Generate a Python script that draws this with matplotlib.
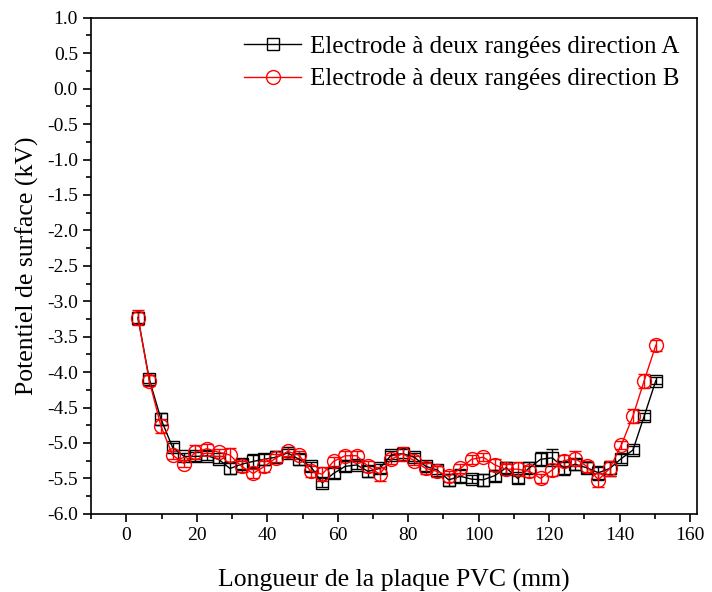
import matplotlib
matplotlib.use("Agg")
import matplotlib.pyplot as plt
from matplotlib.ticker import MultipleLocator

x = [3.3, 6.5, 9.8, 13.1, 16.4, 19.6, 22.9, 26.2, 29.4, 32.7, 36.0, 39.2, 42.5, 45.8,
     49.0, 52.3, 55.6, 58.8, 62.1, 65.4, 68.6, 71.9, 75.2, 78.4, 81.7, 85.0, 88.2, 91.5,
     94.8, 98.0, 101.3, 104.6, 107.8, 111.1, 114.4, 117.6, 120.9, 124.2, 127.4, 130.7,
     134.0, 137.2, 140.5, 143.8, 147.0, 150.3]

pot_A = [-3.23, -4.10, -4.66, -5.06, -5.19, -5.19, -5.18, -5.23, -5.36, -5.30, -5.26, -5.23,
         -5.20, -5.14, -5.23, -5.33, -5.56, -5.43, -5.33, -5.31, -5.40, -5.36, -5.17, -5.15,
         -5.20, -5.33, -5.38, -5.52, -5.47, -5.51, -5.52, -5.46, -5.35, -5.50, -5.35, -5.23,
         -5.21, -5.35, -5.30, -5.35, -5.42, -5.36, -5.22, -5.10, -4.62, -4.12]

err_A = [0.08, 0.06, 0.08, 0.06, 0.05, 0.06, 0.06, 0.05, 0.08, 0.07, 0.10, 0.08,
         0.08, 0.06, 0.08, 0.06, 0.06, 0.07, 0.07, 0.06, 0.08, 0.07, 0.06, 0.06,
         0.06, 0.06, 0.06, 0.08, 0.10, 0.06, 0.08, 0.08, 0.08, 0.06, 0.08, 0.10,
         0.12, 0.10, 0.08, 0.08, 0.10, 0.10, 0.06, 0.06, 0.05, 0.05]

pot_B = [-3.23, -4.12, -4.76, -5.17, -5.29, -5.13, -5.08, -5.13, -5.17, -5.33, -5.43, -5.33,
         -5.21, -5.12, -5.17, -5.40, -5.44, -5.26, -5.18, -5.18, -5.33, -5.44, -5.23, -5.15,
         -5.25, -5.36, -5.40, -5.47, -5.36, -5.23, -5.20, -5.31, -5.37, -5.37, -5.40, -5.50,
         -5.38, -5.25, -5.22, -5.33, -5.52, -5.36, -5.03, -4.62, -4.12, -3.62]

err_B = [0.10, 0.08, 0.10, 0.06, 0.05, 0.10, 0.06, 0.05, 0.10, 0.08, 0.06, 0.08,
         0.06, 0.06, 0.06, 0.08, 0.10, 0.06, 0.06, 0.06, 0.08, 0.10, 0.06, 0.10,
         0.06, 0.08, 0.08, 0.08, 0.06, 0.06, 0.06, 0.08, 0.08, 0.10, 0.08, 0.06,
         0.08, 0.08, 0.10, 0.08, 0.10, 0.10, 0.06, 0.10, 0.10, 0.08]

label_A = "Electrode à deux rangées direction A"
label_B = "Electrode à deux rangées direction B"

plt.rcParams['font.family'] = ['Liberation Serif', 'DejaVu Serif']

fig = plt.figure(figsize=(7.12, 5.92), dpi=100)
ax = fig.add_axes([0.128, 0.132, 0.851, 0.838])

ax.errorbar(x, pot_A, yerr=err_A, color='black', marker='s', markersize=8.5,
            markerfacecolor='none', markeredgewidth=1.0, linewidth=1.0,
            capsize=4, elinewidth=1.0, capthick=1.0, label=label_A)
ax.errorbar(x, pot_B, yerr=err_B, color='red', marker='o', markersize=10,
            markerfacecolor='none', markeredgewidth=1.0, linewidth=1.0,
            capsize=4, elinewidth=1.0, capthick=1.0, label=label_B)

ax.set_xlim(-10, 162)
ax.set_ylim(-6.0, 1.0)
ax.xaxis.set_major_locator(MultipleLocator(20))
ax.xaxis.set_minor_locator(MultipleLocator(10))
ax.yaxis.set_major_locator(MultipleLocator(0.5))
ax.yaxis.set_minor_locator(MultipleLocator(0.25))
ax.yaxis.set_major_formatter(matplotlib.ticker.FormatStrFormatter('%.1f'))
ax.tick_params(which='major', direction='out', length=6, width=1.2, labelsize=14)
ax.tick_params(which='minor', direction='out', length=3.5, width=1.2)
for s in ax.spines.values():
    s.set_linewidth(1.2)

ax.set_xlabel("Longueur de la plaque PVC (mm)", fontsize=18.5, labelpad=18)
ax.set_ylabel("Potentiel de surface (kV)", fontsize=18.5, labelpad=6)

handles, labels = ax.get_legend_handles_labels()
handles = [h[0] for h in handles]
ax.legend(handles, labels, loc='upper right', frameon=False, fontsize=18,
          handlelength=2.3, handletextpad=0.35, borderaxespad=0.3, labelspacing=0.4)

fig.savefig("out.png", dpi=100)
